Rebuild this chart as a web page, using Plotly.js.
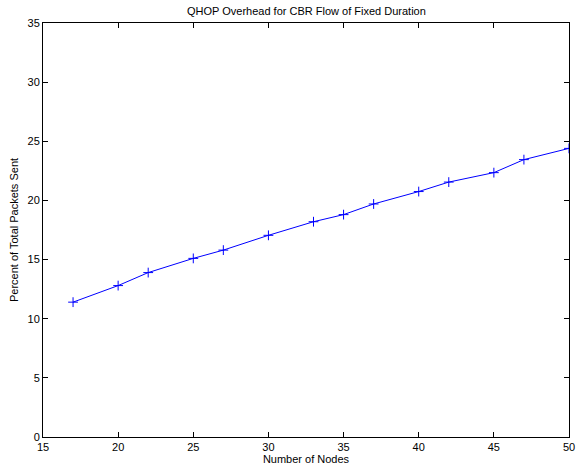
<!DOCTYPE html>
<html>
<head>
<meta charset="utf-8">
<script src="https://cdn.plot.ly/plotly-3.0.1.min.js"></script>
<style>html,body{margin:0;padding:0;background:#fff;}#chart{width:576px;height:467px;}</style>
</head>
<body>
<div id="chart"></div>
<script>
const nodes = [17, 20, 22, 25, 27, 30, 33, 35, 37, 40, 42, 45, 47, 50];
const overheadPercent = [11.4, 12.8, 13.9, 15.1, 15.8, 17.05, 18.2, 18.8, 19.7, 20.75, 21.55, 22.35, 23.45, 24.4];
const xTicks = [15, 20, 25, 30, 35, 40, 45, 50];
const yTicks = [0, 5, 10, 15, 20, 25, 30, 35];

const font = {family: 'Liberation Sans, Arial, Helvetica, sans-serif', size: 11, color: '#000'};

const trace = {
  x: nodes, y: overheadPercent, type: 'scatter', mode: 'lines+markers',
  line: {color: '#0000ff', width: 1},
  marker: {symbol: 'cross-thin-open', size: 7, line: {color: '#0000ff', width: 1}, color: '#0000ff'},
  hoverinfo: 'skip'
};

const axisCommon = {
  showline: true, linecolor: '#000', linewidth: 1, mirror: 'ticks',
  ticks: 'inside', ticklen: 5, tickcolor: '#000', tickwidth: 1,
  showgrid: false, zeroline: false, tickfont: font, fixedrange: true
};

const layout = {
  width: 576, height: 467,
  margin: {l: 43, r: 7, t: 23, b: 30},
  paper_bgcolor: '#fff', plot_bgcolor: '#fff',
  showlegend: false,
  font: font,
  title: {text: 'QHOP Overhead for CBR Flow of Fixed Duration', font: font, x: 0.532, xanchor: 'center', y: 0.985, yanchor: 'top'},
  xaxis: Object.assign({}, axisCommon, {range: [15, 50], tickvals: xTicks, ticktext: xTicks.map(String),
    title: {text: 'Number of Nodes', font: font, standoff: 2}}),
  yaxis: Object.assign({}, axisCommon, {range: [0, 35], tickvals: yTicks, ticktext: yTicks.map(String),
    title: {text: 'Percent of Total Packets Sent', font: font, standoff: 6}})
};

Plotly.newPlot('chart', [trace], layout, {staticPlot: true, displayModeBar: false});
</script>
</body>
</html>
